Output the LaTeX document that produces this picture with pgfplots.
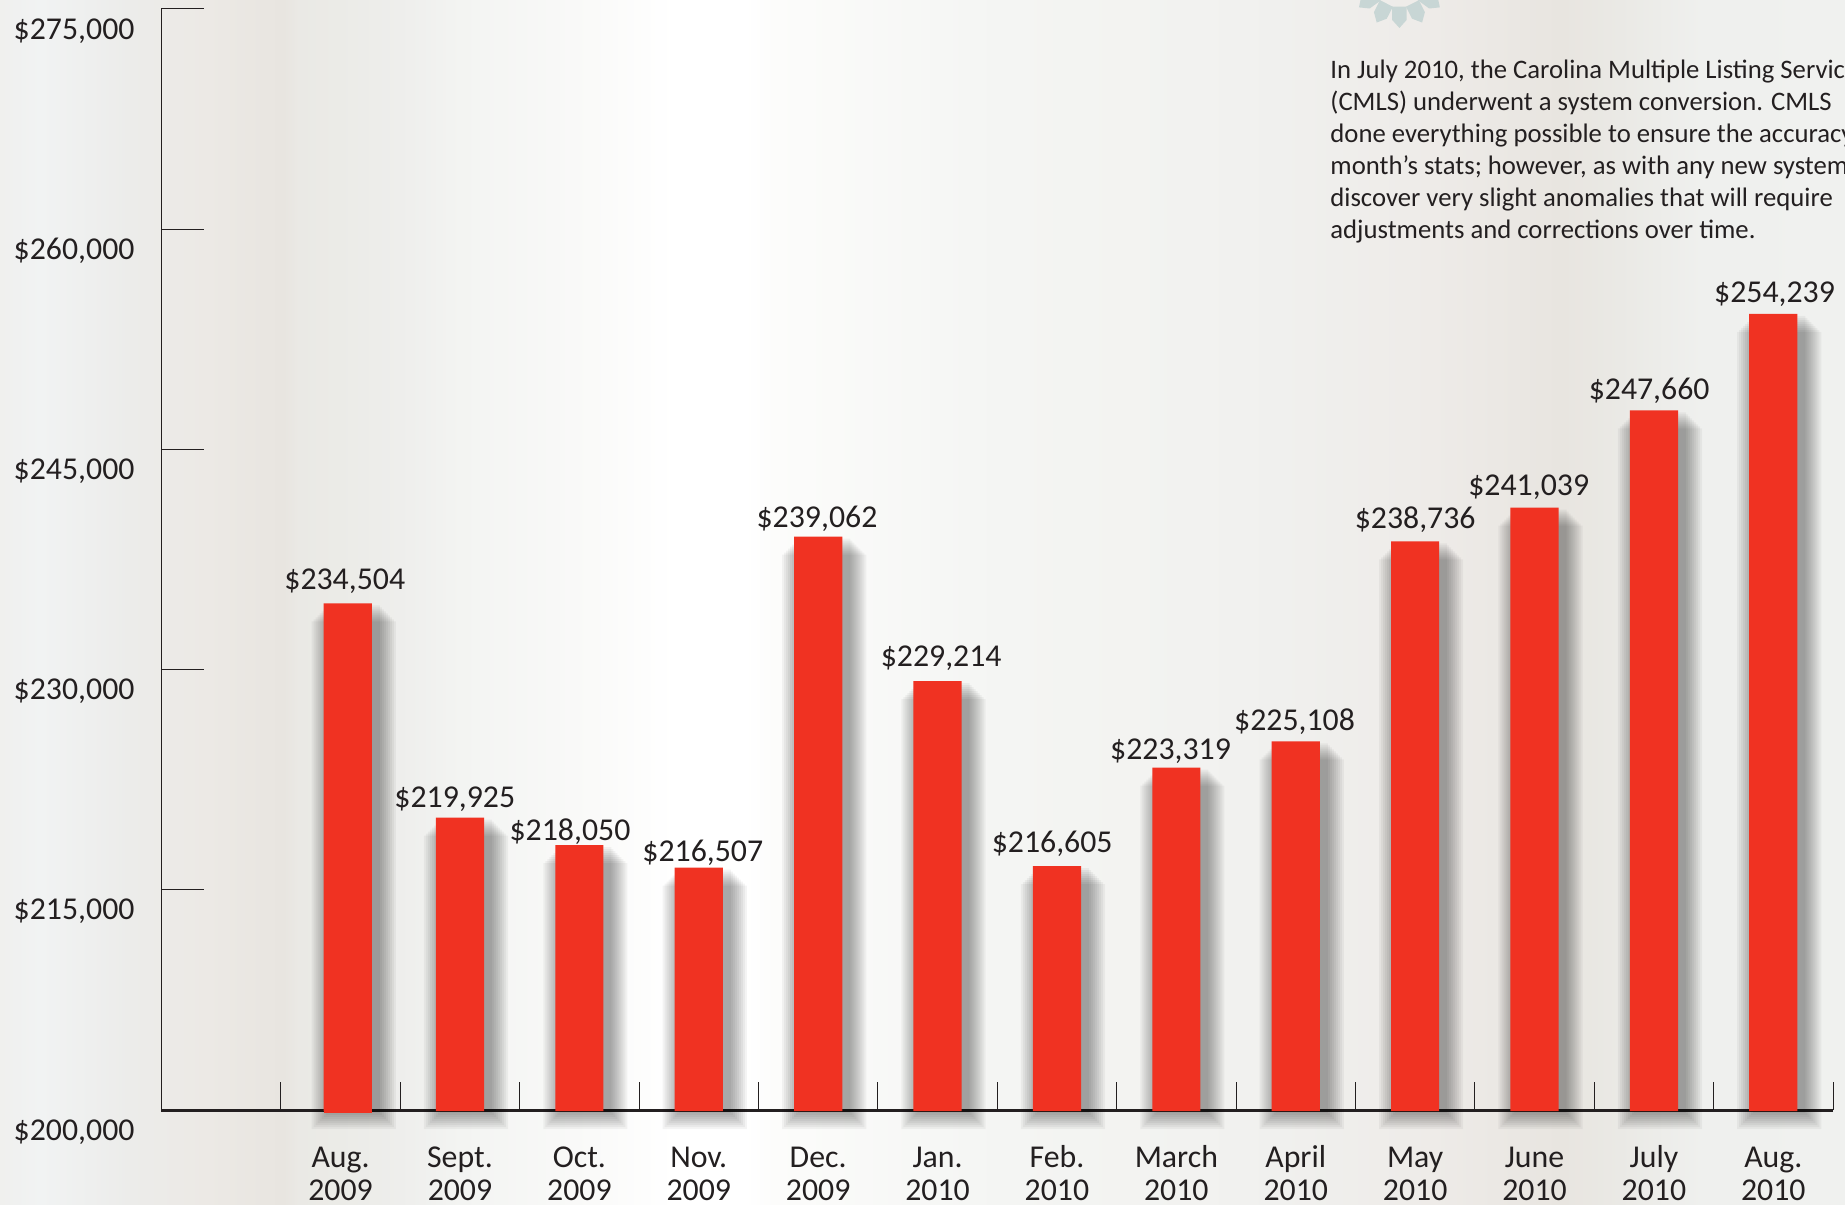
\documentclass[border=0pt]{standalone}
\usepackage{pgfplots}
\pgfplotsset{compat=1.18}
\usepackage{pgfplotstable}
\usepackage{fontspec}
\setmainfont{Carlito}
\definecolor{barred}{HTML}{F03222}
\definecolor{ink}{HTML}{231F20}
\definecolor{gearc}{HTML}{C8D6D5}
\newcommand{\xl}[2]{\rule{0pt}{12pt}#1\\#2}
\pgfdeclarehorizontalshading{bgshade}{100bp}{
 rgb(0bp)=(.94,.94,.933);
 rgb(25bp)=(.94,.94,.933);
 rgb(26.1bp)=(.945,.953,.953);
 rgb(28.5bp)=(.925,.925,.918);
 rgb(30.6bp)=(.925,.914,.898);
 rgb(32.7bp)=(.91,.898,.878);
 rgb(33.1bp)=(.918,.914,.898);
 rgb(34.2bp)=(.922,.922,.906);
 rgb(35.8bp)=(.933,.933,.925);
 rgb(37.5bp)=(.953,.957,.949);
 rgb(41bp)=(.98,.98,.976);
 rgb(43.3bp)=(1,1,1);
 rgb(45.2bp)=(1,1,1);
 rgb(46bp)=(.988,.988,.984);
 rgb(52.1bp)=(.957,.961,.953);
 rgb(57.5bp)=(.949,.949,.941);
 rgb(59.7bp)=(.941,.941,.933);
 rgb(63.8bp)=(.933,.922,.91);
 rgb(67.3bp)=(.91,.898,.878);
 rgb(68.9bp)=(.918,.914,.898);
 rgb(71.1bp)=(.937,.941,.933);
 rgb(75bp)=(.941,.945,.937);
 rgb(100bp)=(.941,.945,.937)}
\pgfplotstableread{
x y dx dy label
0.06 234504 -1.5 11.2 {\$234,504}
1 219925 -2.6 9.1 {\$219,925}
2 218050 -4.7 6.7 {\$218,050}
3 216507 2.0 7.3 {\$216,507}
4 239062 -0.6 8.8 {\$239,062}
5 229214 1.8 11.4 {\$229,214}
6 216605 -2.4 11.4 {\$216,605}
7 223319 -2.9 8.2 {\$223,319}
8 225108 -0.6 9.7 {\$225,108}
9 238736 0.0 10.6 {\$238,736}
10 241039 -2.9 10.3 {\$241,039}
11 247660 -2.4 9.7 {\$247,660}
12 254239 0.6 9.7 {\$254,239}
}\pricedata
\begin{document}
\begin{tikzpicture}[x=1pt,y=1pt]
\useasboundingbox (0,0) rectangle (922.5,602);
\clip (0,0) rectangle (922.5,602);
\shade[shading=bgshade] (0,0) rectangle (922.5,602);
% gear ornament at the top
\foreach \a in {-54,-27,0,27,54}{
 \fill[gearc,shift={(699.7,613)},rotate=\a]
   (-3.6,-14.3) -- (3.6,-14.3) -- (3.6,-21) -- (0,-25) -- (-3.6,-21) -- cycle;
}
% note
\node[anchor=north west,inner sep=0pt,font=\fontsize{13.35}{16}\selectfont,text=ink,align=left] at (665,572.4)
 {In July 2010, the Carolina Multiple Listing Service\\
  (CMLS) underwent a system conversion. CMLS\\
  done everything possible to ensure the accuracy\\
  month’s stats; however, as with any new system,\\
  discover very slight anomalies that will require\\
  adjustments and corrections over time.};
% axis lines, ticks and tick labels
\begin{axis}[
  at={(80.75pt,47pt)},anchor=south west,
  scale only axis,width=835.75pt,height=550.5pt,
  xmin=-1.5,xmax=12.5,ymin=200000,ymax=275000,
  axis lines=left,axis line style={-,ink},
  x axis line style={line width=1.5pt},
  y axis line style={line width=0.75pt},
  clip=false,
  ytick={200000,215000,230000,245000,260000,275000},
  yticklabels={{\$200,000},{\$215,000},{\$230,000},{\$245,000},{\$260,000},{\$275,000}},
  xtick={0,...,12},
  xticklabels={{\xl{Aug.}{2009}},{\xl{Sept.}{2009}},{\xl{Oct.}{2009}},{\xl{Nov.}{2009}},{\xl{Dec.}{2009}},{\xl{Jan.}{2010}},{\xl{Feb.}{2010}},{\xl{March}{2010}},{\xl{April}{2010}},{\xl{May}{2010}},{\xl{June}{2010}},{\xl{July}{2010}},{\xl{Aug.}{2010}}},
  minor xtick={-0.5,0.5,...,12.5},
  tick align=inside,
  major tick length=21pt,minor tick length=14pt,
  major x tick style={draw=none},
  minor x tick style={ink,line width=0.5pt},
  major y tick style={ink,line width=0.5pt},
  ticklabel style={font=\fontsize{15.9}{16.6}\selectfont,text=ink,inner sep=0pt},
  xticklabel style={align=center,anchor=north,yshift=-16.3pt},
  yticklabel style={anchor=east,xshift=-13.3pt,yshift=-10.9pt},
]
\end{axis}
% bars, with their shadows and value labels
\begin{axis}[
  at={(80.75pt,46.5pt)},anchor=south west,
  scale only axis,width=835.75pt,height=551pt,
  xmin=-1.5,xmax=12.5,ymin=199932,ymax=275000,
  hide axis,clip=false,
]
\pgfplotsinvokeforeach{1,2,3,4,5,6,7,8,9}{
 \addplot[ybar,bar width={24.1pt+2*#1pt},bar shift=3pt,yshift=-#1pt,draw=none,fill=black,fill opacity=0.045]
   table[x=x,y=y] {\pricedata};
}
\addplot[ybar,bar width=24.1pt,bar shift=0pt,fill=barred,draw=none]
   table[x=x,y=y] {\pricedata};
\addplot[fill=barred,draw=none] coordinates {(-0.14,199810) (0.26,199810) (0.26,200200) (-0.14,200200)} -- cycle;
\addplot[only marks,mark=none,
   visualization depends on={\thisrow{dx} \as \labdx},
   visualization depends on={\thisrow{dy} \as \labdy},
   point meta=explicit symbolic,
   nodes near coords,
   every node near coord/.append style={anchor=center,inner sep=0pt,
      xshift=\labdx pt,yshift=\labdy pt,text=ink,font=\fontsize{15.9}{16.6}\selectfont},
  ] table[x=x,y=y,meta=label] {\pricedata};
\end{axis}
\end{tikzpicture}
\end{document}
